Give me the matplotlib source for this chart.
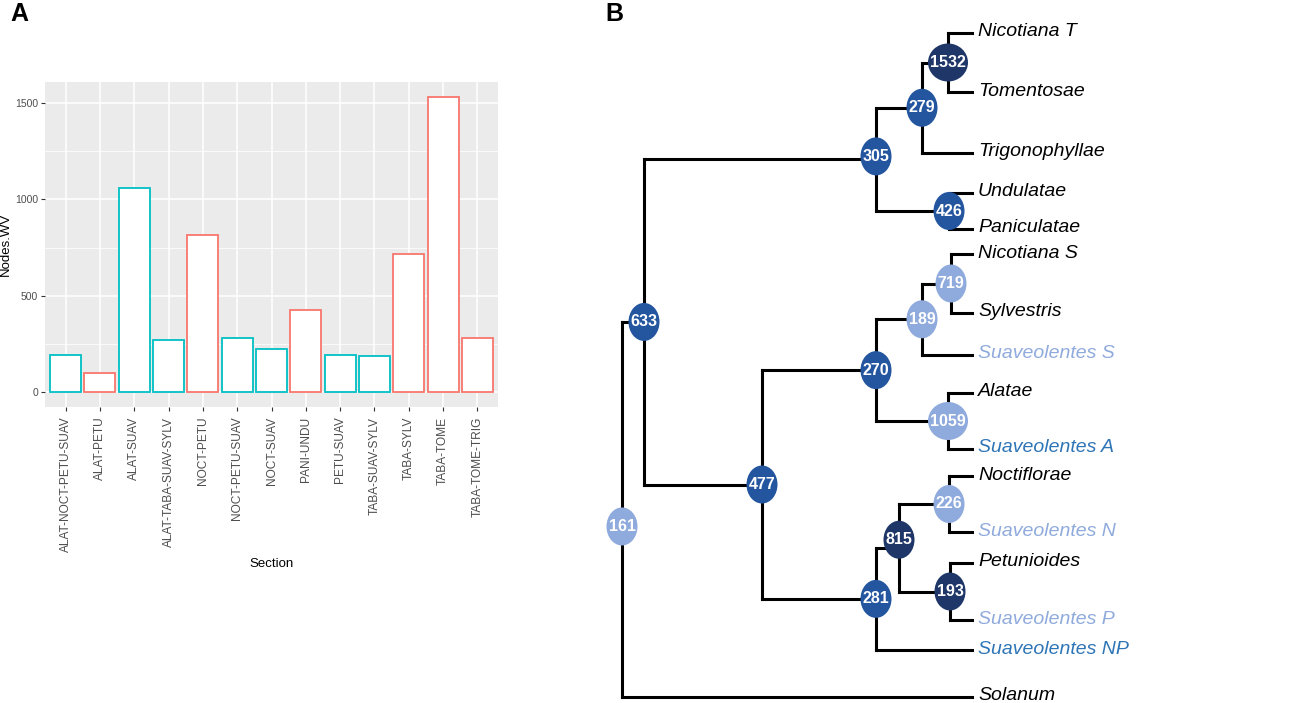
import matplotlib
matplotlib.use("Agg")
import matplotlib.pyplot as plt
from matplotlib.patches import Ellipse
from matplotlib.ticker import MultipleLocator

plt.rcParams["font.family"] = ["Liberation Sans", "DejaVu Sans"]

# 面板A 数据
sections = ["ALAT-NOCT-PETU-SUAV", "ALAT-PETU", "ALAT-SUAV", "ALAT-TABA-SUAV-SYLV",
            "NOCT-PETU", "NOCT-PETU-SUAV", "NOCT-SUAV", "PANI-UNDU", "PETU-SUAV",
            "TABA-SUAV-SYLV", "TABA-SYLV", "TABA-TOME", "TABA-TOME-TRIG"]
nodes_wv = [193, 101, 1059, 270, 815, 281, 226, 426, 193, 189, 719, 1532, 279]
groups = ["b", "a", "b", "b", "a", "b", "b", "a", "b", "b", "a", "a", "a"]

# 面板B 数据（树）
leaf_names = ["Nicotiana T", "Tomentosae", "Trigonophyllae", "Undulatae", "Paniculatae",
              "Nicotiana S", "Sylvestris", "Suaveolentes S", "Alatae", "Suaveolentes A",
              "Noctiflorae", "Suaveolentes N", "Petunioides", "Suaveolentes P",
              "Suaveolentes NP", "Solanum"]
leaf_y = [33, 92, 153, 193, 229, 254, 313, 355, 393, 449, 476, 532, 563, 620, 650, 697]
leaf_kind = ["k", "k", "k", "k", "k", "k", "k", "light", "k", "mid",
             "k", "light", "k", "light", "mid", "k"]

node_values = [1532, 279, 426, 305, 719, 189, 1059, 270, 226, 193, 815, 281, 477, 633, 161]
node_depth = [326, 300, 327, 254, 329, 300, 326, 254, 327, 328, 277, 254, 140, 22, 0]
node_children = [("Nicotiana T", "Tomentosae"), ("1532", "Trigonophyllae"),
                 ("Undulatae", "Paniculatae"), ("279", "426"),
                 ("Nicotiana S", "Sylvestris"), ("719", "Suaveolentes S"),
                 ("Alatae", "Suaveolentes A"), ("189", "1059"),
                 ("Noctiflorae", "Suaveolentes N"), ("Petunioides", "Suaveolentes P"),
                 ("226", "193"), ("815", "Suaveolentes NP"), ("270", "281"),
                 ("305", "477"), ("633", "Solanum")]
node_shade = ["dark", "mid", "mid", "mid", "light", "light", "light", "mid",
              "light", "dark", "dark", "mid", "mid", "mid", "light"]
tip_depth = 350

fig = plt.figure(figsize=(12.99, 7.03), dpi=100)

# ---------- A ----------
ax = fig.add_axes([45 / 1299, 1 - 407 / 703, 453 / 1299, 325 / 703])
ax.set_facecolor("#EBEBEB")
pal = {"a": "#F8766D", "b": "#00BFC4"}
x = list(range(len(sections)))
ax.bar(x, nodes_wv, width=0.9, color="white",
       edgecolor=[pal[g] for g in groups], linewidth=1.3, zorder=3)
ax.set_xlim(-0.6, len(sections) - 0.4)
ax.set_ylim(-76.6, 1608.6)
ax.yaxis.set_major_locator(MultipleLocator(500))
ax.yaxis.set_minor_locator(MultipleLocator(250))
ax.grid(which="major", color="white", linewidth=1.1, zorder=0)
ax.grid(which="minor", axis="y", color="white", linewidth=0.55, zorder=0)
ax.set_xticks(x)
ax.set_xticklabels(sections, rotation=90, fontsize=8.6)
ax.tick_params(axis="both", which="major", length=3, width=0.8, color="#333333",
               labelsize=7.5, labelcolor="#4D4D4D", pad=2)
ax.tick_params(axis="x", labelsize=8.6, pad=4)
ax.tick_params(which="minor", length=0)
for s in ax.spines.values():
    s.set_visible(False)
ax.set_xlabel("Section", fontsize=9.5, labelpad=4)
ax.set_ylabel("Nodes.WV", fontsize=9.5, labelpad=2)
fig.text(10 / 1299, 1 - 14 / 703, "A", fontsize=18, fontweight="bold", va="center")

# ---------- B ----------
bx = fig.add_axes([600 / 1299, 0, 699 / 1299, 1])
bx.set_xlim(-22, 677)
bx.set_ylim(703, 0)
bx.axis("off")
fig.text(605 / 1299, 1 - 14 / 703, "B", fontsize=18, fontweight="bold", va="center")

shade_col = {"dark": "#1F3768", "mid": "#2456A0", "light": "#8FAADC"}
text_col = {"k": "black", "light": "#8FAADC", "mid": "#2E75B6"}
label_dy = {"161": 17, "815": -8, "305": -3}

pos = {}
for name, y in zip(leaf_names, leaf_y):
    pos[name] = (tip_depth, y)
lw = 2.2
for val, d, ch in zip(node_values, node_depth, node_children):
    ys = [pos[c][1] for c in ch]
    pos[str(val)] = (d, sum(ys) / len(ys))
    bx.plot([d, d], [min(ys), max(ys)], color="black", lw=lw, solid_capstyle="projecting", zorder=1)
    for c in ch:
        bx.plot([d, pos[c][0]], [pos[c][1], pos[c][1]], color="black", lw=lw,
                solid_capstyle="projecting", zorder=1)

for val, shade in zip(node_values, node_shade):
    d, y = pos[str(val)]
    y = y + label_dy.get(str(val), 0)
    w = 40 if val >= 1000 else 31
    bx.add_patch(Ellipse((d, y), w, 38, facecolor=shade_col[shade], edgecolor="none", zorder=2))
    bx.text(d, y, str(val), color="white", fontsize=11.5, fontweight="bold",
            ha="center", va="center", zorder=3)

for name, y, k in zip(leaf_names, leaf_y, leaf_kind):
    bx.text(tip_depth + 6, y - 1, name, color=text_col[k], fontsize=14, style="italic",
            ha="left", va="center")

fig.savefig("out.png", dpi=100)
